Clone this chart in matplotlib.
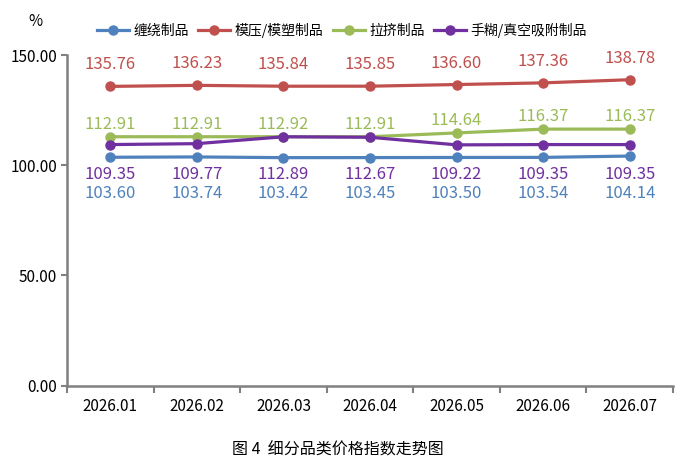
import matplotlib.pyplot as plt

plt.rcParams['font.family'] = ['Noto Sans CJK SC', 'DejaVu Sans']

months = ["2026.01", "2026.02", "2026.03", "2026.04", "2026.05", "2026.06", "2026.07"]
chanrao = [103.60, 103.74, 103.42, 103.45, 103.50, 103.54, 104.14]
moya = [135.76, 136.23, 135.84, 135.85, 136.60, 137.36, 138.78]
laji = [112.91, 112.91, 112.92, 112.91, 114.64, 116.37, 116.37]
shouhu = [109.35, 109.77, 112.89, 112.67, 109.22, 109.35, 109.35]

names = ["缠绕制品", "模压/模塑制品", "拉挤制品", "手糊/真空吸附制品"]
colors = ["#4F81BD", "#C0504D", "#9BBB59", "#7030A0"]
series = [chanrao, moya, laji, shouhu]

fig = plt.figure(figsize=(6.84, 4.71), dpi=100)
ax = fig.add_axes([0.098, 0.1815, 0.886, 0.7017])

x = list(range(len(months)))
for vals, name, c in zip(series, names, colors):
    ax.plot(x, vals, color=c, lw=2.3, marker='o', markersize=6.5, label=name)

# labels above the point for red / green
for vals, c, off in [(moya, colors[1], 12.2), (laji, colors[2], 5.5)]:
    for xi, v in zip(x, vals):
        ax.annotate(f"{v:.2f}", (xi, v), xytext=(0, off), textcoords='offset points',
                    ha='center', va='baseline', color=c, fontsize=12)
# labels stacked below the lines for purple / blue
for vals, c, ylab in [(shouhu, colors[3], 93.8), (chanrao, colors[0], 85.2)]:
    for xi, v in zip(x, vals):
        ax.text(xi, ylab, f"{v:.2f}", ha='center', va='baseline', color=c, fontsize=12)

ax.set_ylim(0, 150)
ax.set_xlim(-0.5, len(months) - 0.5)
ax.set_yticks([0, 50, 100, 150])
ax.set_yticklabels(["0.00", "50.00", "100.00", "150.00"], fontsize=11)
ax.set_xticks(x)
ax.set_xticklabels(months, fontsize=11)
ax.tick_params(axis='x', length=0, pad=9)
ax.set_xticks([i - 0.5 for i in range(len(months) + 1)], minor=True)
ax.tick_params(axis='x', which='minor', length=5, color='#808080', width=1.5)
ax.tick_params(axis='y', length=4, color='#808080', width=1.5, pad=3)
for s in ['top', 'right']:
    ax.spines[s].set_visible(False)
for s in ['left', 'bottom']:
    ax.spines[s].set_color('#808080')
    ax.spines[s].set_linewidth(1.8)

fig.text(35 / 684, 1 - 22 / 471, "%", fontsize=11, ha='center', va='center')
fig.legend(loc='center', bbox_to_anchor=(0.5, 1 - 30 / 471), ncol=4, frameon=False,
           fontsize=10, handlelength=2.3, columnspacing=0.7, handletextpad=0.3)

fig.text(0.494, 1 - 450 / 471, "图 4  细分品类价格指数走势图", fontsize=11.5, ha='center', va='center')

fig.savefig("out.png", dpi=100)
